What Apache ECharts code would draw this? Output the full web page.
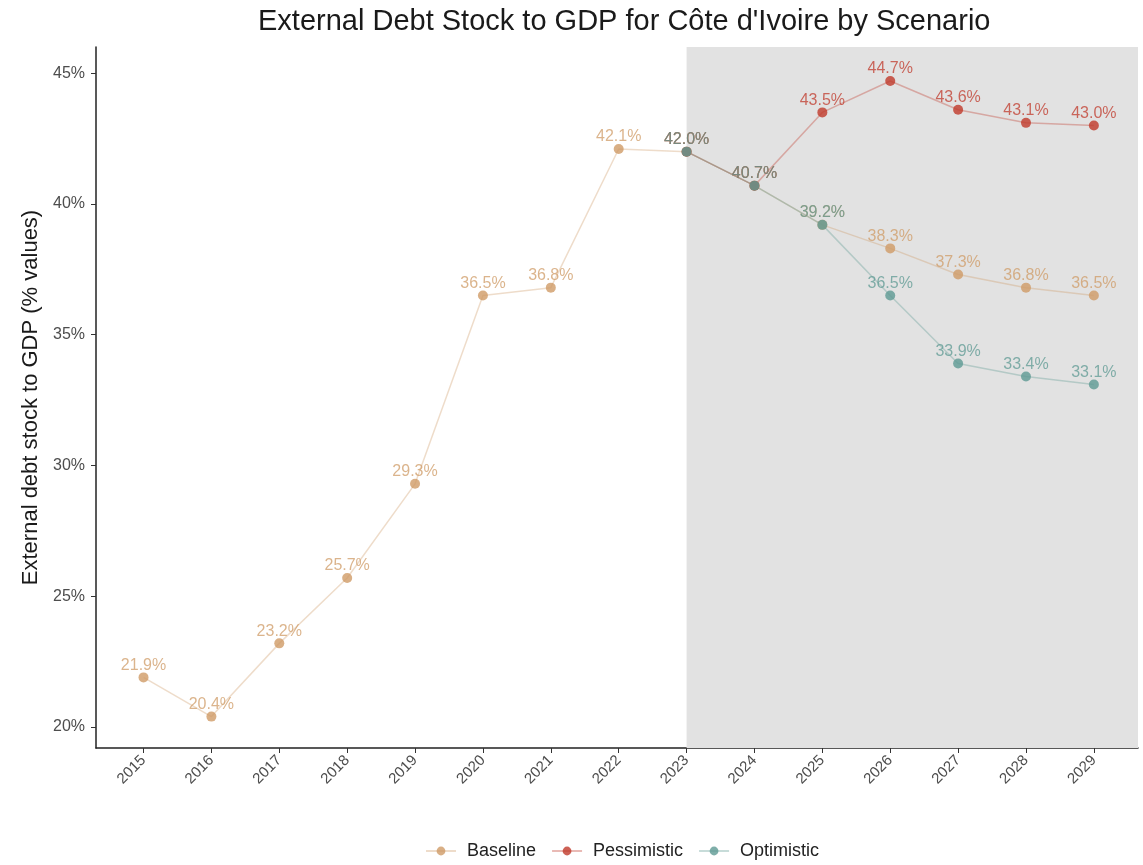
<!DOCTYPE html>
<html>
<head>
    <meta charset="UTF-8">
    <title>External Debt Stock to GDP</title>
    <script type="text/javascript" src="https://cdn.jsdelivr.net/npm/echarts@6/dist/echarts.min.js"></script>
    <style>
        html, body { margin: 0; padding: 0; background: #fff; }
        #chart { width: 1143px; height: 865px; }
    </style>
</head>
<body>
<div id="chart"></div>
<script>
    // data
    var years = [2015, 2016, 2017, 2018, 2019, 2020, 2021, 2022, 2023, 2024, 2025, 2026, 2027, 2028, 2029];
    var baseline = [21.9, 20.4, 23.2, 25.7, 29.3, 36.5, 36.8, 42.1, 42.0, 40.7, 39.2, 38.3, 37.3, 36.8, 36.5];
    var projYears = [2023, 2024, 2025, 2026, 2027, 2028, 2029];
    var pessimistic = [42.0, 40.7, 43.5, 44.7, 43.6, 43.1, 43.0];
    var optimistic = [42.0, 40.7, 39.2, 36.5, 33.9, 33.4, 33.1];
    var yTicks = [20, 25, 30, 35, 40, 45];
    var projStart = 2023;

    var xMin = 2014.3, xMax = 2029.65;

    function pairs(xs, ys) {
        var out = [];
        for (var i = 0; i < xs.length; i++) out.push([xs[i], ys[i]]);
        return out;
    }

    function lineSeries(name, color, data) {
        return {
            name: name,
            type: 'line',
            data: data,
            symbol: 'circle',
            symbolSize: 10,
            color: color,
            itemStyle: { color: color, opacity: 0.8 },
            lineStyle: { color: color, width: 1.5, opacity: 0.35 },
            label: {
                show: true,
                position: 'top',
                distance: -1,
                color: color,
                opacity: 0.75,
                fontSize: 16,
                formatter: function (p) { return p.value[1].toFixed(1) + '%'; }
            },
            emphasis: { disabled: true },
            z: 3
        };
    }

    var myChart = echarts.init(document.getElementById('chart'));
    myChart.setOption({
        animation: false,
        textStyle: { fontFamily: 'Liberation Sans, Arial, sans-serif' },
        title: {
            text: "External Debt Stock to GDP for Côte d'Ivoire by Scenario",
            left: 253,
            top: 2,
            textStyle: { fontSize: 29, fontWeight: 'normal', color: '#1a1a1a' }
        },
        legend: {
            bottom: 0,
            left: 420,
            itemWidth: 30,
            itemHeight: 11,
            itemGap: 15,
            textStyle: { fontSize: 18, color: '#222', padding: [0, 0, 0, 6] },
            data: ['Baseline', 'Pessimistic', 'Optimistic']
        },
        grid: { left: 96, right: 5, top: 47, bottom: 117 },
        xAxis: {
            type: 'value',
            min: xMin,
            max: xMax,
            splitLine: { show: false },
            axisLine: { show: true, onZero: false, lineStyle: { color: '#222', width: 1.5 } },
            axisTick: { show: true, customValues: years, length: 5, lineStyle: { color: '#333' } },
            axisLabel: {
                customValues: years,
                rotate: 45,
                fontSize: 15,
                color: '#4d4d4d',
                margin: 10,
                formatter: function (v) { return String(v); }
            }
        },
        yAxis: {
            type: 'value',
            min: 19.2,
            max: 46,
            name: 'External debt stock to GDP (% values)',
            nameLocation: 'middle',
            nameGap: 52,
            nameTextStyle: { fontSize: 22, color: '#1a1a1a' },
            splitLine: { show: false },
            axisLine: { show: true, lineStyle: { color: '#222', width: 1.5 } },
            axisTick: { show: true, customValues: yTicks, length: 5, lineStyle: { color: '#333' } },
            axisLabel: {
                customValues: yTicks,
                fontSize: 16,
                color: '#4d4d4d',
                margin: 11,
                formatter: function (v) { return v + '%'; }
            }
        },
        series: [
            {
                name: 'shade',
                type: 'line',
                data: [],
                silent: true,
                z: 1,
                markArea: {
                    silent: true,
                    itemStyle: { color: '#e2e2e2' },
                    data: [[{ xAxis: projStart }, { xAxis: xMax }]]
                }
            },
            lineSeries('Baseline', '#CF9B66', pairs(years, baseline)),
            lineSeries('Pessimistic', '#C0392B', pairs(projYears, pessimistic)),
            lineSeries('Optimistic', '#5E9A93', pairs(projYears, optimistic))
        ]
    });
</script>
</body>
</html>
